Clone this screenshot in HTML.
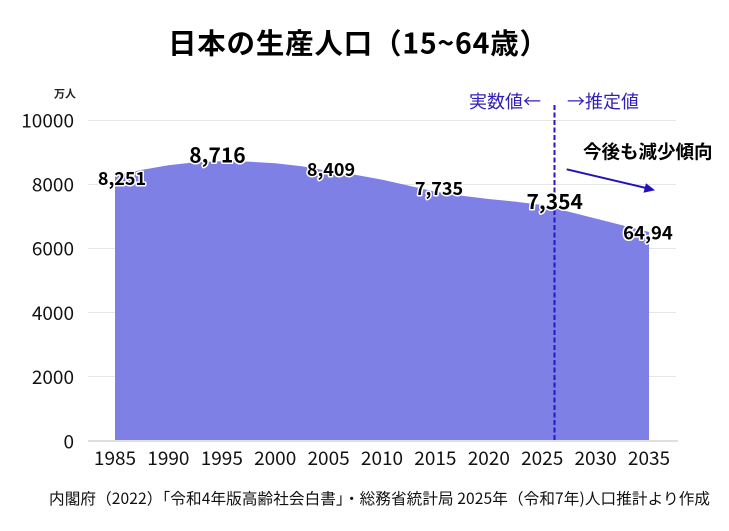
<!DOCTYPE html>
<html>
<head>
<meta charset="utf-8">
<style>
html,body{margin:0;padding:0;background:#fff;}
body{width:729px;height:531px;overflow:hidden;}
svg{display:block;}
text{font-family:"Noto Sans CJK JP","Liberation Sans",sans-serif;}
</style>
</head>
<body>
<svg width="729" height="531" viewBox="0 0 729 531" xmlns="http://www.w3.org/2000/svg">
  <rect width="729" height="531" fill="#fff"/>
  <!-- title -->
  <text x="168" y="53.5" font-size="28.5" font-weight="700" fill="#000" textLength="380" lengthAdjust="spacing">日本の生産人口（15~64歳）</text>

  <!-- unit -->
  <text x="54" y="97.5" font-size="11" font-weight="700" fill="#222">万人</text>

  <!-- gridlines -->
  <g stroke="#e6e6e6" stroke-width="1">
    <line x1="88" y1="120.5" x2="676" y2="120.5"/>
    <line x1="88" y1="184.5" x2="676" y2="184.5"/>
    <line x1="88" y1="248.5" x2="676" y2="248.5"/>
    <line x1="88" y1="312.5" x2="676" y2="312.5"/>
    <line x1="88" y1="376.5" x2="676" y2="376.5"/>
  </g>

  <!-- area -->
  <path d="M115,441 L115,176 L141,170 L168.4,165.3 L195,162.3 L221.8,161.2 L248,161.6 L275.2,163.3 L302,166.2 L328.6,171 L355,174.8 L382,179.6 L408,185.5 L435.4,191.8 L462,195.8 L488.8,199 L515,201.6 L542.2,205 L649,232 L649,441 Z" fill="#7e80e6"/>

  <!-- baseline -->
  <line x1="88" y1="441" x2="678" y2="441" stroke="#e0e0e0" stroke-width="2"/>

  <!-- dashed divider -->
  <line x1="554.5" y1="105" x2="554.5" y2="441" stroke="#2a14c4" stroke-width="2" stroke-dasharray="5,2.5"/>

  <!-- y labels -->
  <g font-size="19" fill="#111" text-anchor="end">
    <text x="74" y="127.5">10000</text>
    <text x="74" y="191.5">8000</text>
    <text x="74" y="255.7">6000</text>
    <text x="74" y="319.9">4000</text>
    <text x="74" y="384.1">2000</text>
    <text x="74" y="448.3">0</text>
  </g>

  <!-- x labels -->
  <g font-size="19" fill="#111" text-anchor="middle">
    <text x="115" y="465">1985</text>
    <text x="168.4" y="465">1990</text>
    <text x="221.8" y="465">1995</text>
    <text x="275.2" y="465">2000</text>
    <text x="328.6" y="465">2005</text>
    <text x="382" y="465">2010</text>
    <text x="435.4" y="465">2015</text>
    <text x="488.8" y="465">2020</text>
    <text x="542.2" y="465">2025</text>
    <text x="595.6" y="465">2030</text>
    <text x="649" y="465">2035</text>
  </g>

  <!-- data labels -->
  <g font-weight="700" fill="#000" stroke="#fff" stroke-width="3" stroke-linejoin="round" paint-order="stroke" text-anchor="middle">
    <text x="122" y="185" font-size="18">8,251</text>
    <text x="217.5" y="162.7" font-size="21">8,716</text>
    <text x="331" y="176" font-size="18">8,409</text>
    <text x="439" y="195" font-size="18">7,735</text>
    <text x="554.7" y="209" font-size="21">7,354</text>
    <text x="648" y="239.5" font-size="18.5">64,94</text>
  </g>

  <!-- annotations -->
  <text x="469" y="108" font-size="18" fill="#2f1fb8">実数値←</text>
  <text x="567" y="108" font-size="18" fill="#2f1fb8">→推定値</text>
  <text x="583" y="158.5" font-size="18.5" font-weight="700" fill="#000">今後も減少傾向</text>

  <!-- arrow -->
  <line x1="566.7" y1="169.3" x2="646" y2="188" stroke="#2410b8" stroke-width="2"/>
  <polygon points="655,190.2 643.5,192.7 646,183.2" fill="#2410b8"/>

  <!-- footer -->
  <text x="49" y="504" font-size="15.6" fill="#111" textLength="661" lengthAdjust="spacing">内閣府（2022）「令和4年版高齢社会白書」・総務省統計局 2025年（令和7年)人口推計より作成</text>
</svg>
</body>
</html>
